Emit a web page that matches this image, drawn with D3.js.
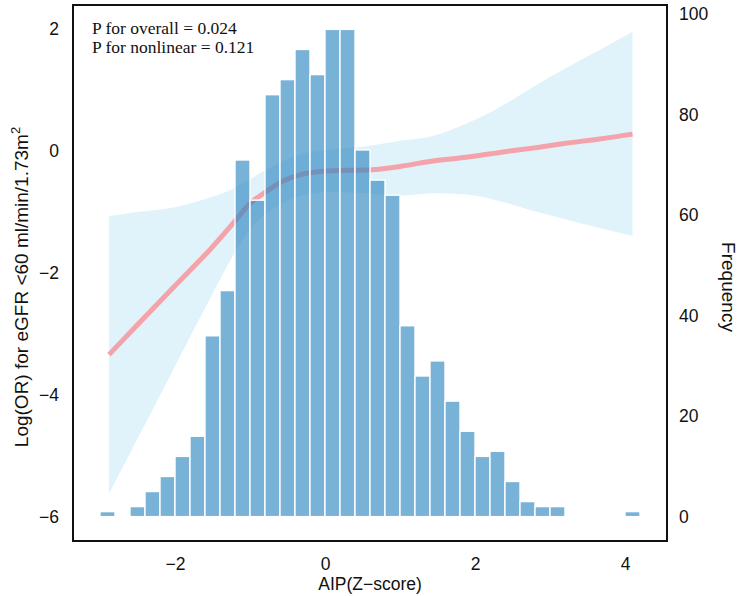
<!DOCTYPE html>
<html>
<head>
<meta charset="utf-8">
<script src="https://cdn.jsdelivr.net/npm/d3@7"></script>
<style>
  body { margin: 0; background: #fff; }
  svg text { font-family: "Liberation Sans", Arial, sans-serif; fill: #111; }
  .note { font-family: "Liberation Serif", "Times New Roman", serif; }
</style>
</head>
<body>
<div id="vis"></div>
<script>
// histogram bins (AIP z-score) and counts
const binEdges = [-3.0, -2.8, -2.6, -2.4, -2.2, -2.0, -1.8, -1.6, -1.4, -1.2, -1.0, -0.8,
  -0.6, -0.4, -0.2, 0.0, 0.2, 0.4, 0.6, 0.8, 1.0, 1.2, 1.4, 1.6, 1.8, 2.0, 2.2, 2.4,
  2.6, 2.8, 3.0, 3.2, 3.4, 3.6, 3.8, 4.0, 4.2];
const counts = [1, 0, 2, 5, 8, 12, 16, 36, 45, 71, 63, 84, 87, 93, 88, 97, 97, 73,
  67, 64, 38, 28, 31, 23, 17, 12, 13, 7, 3, 2, 2, 0, 0, 0, 0, 1];

// spline fit of log(OR) with 95% CI
const fitX = [-2.88, -2.5, -2.0, -1.5, -1.23, -1.0, -0.78, -0.56, -0.34, -0.12, 0.1,
  0.55, 1.0, 1.44, 1.88, 2.33, 2.77, 3.21, 3.66, 4.1];
const fitY = [-3.34, -2.85, -2.21, -1.57, -1.19, -0.86, -0.66, -0.49, -0.39, -0.34, -0.32,
  -0.31, -0.25, -0.16, -0.10, -0.02, 0.05, 0.13, 0.20, 0.28];
const upper = [-1.07, -1.00, -0.92, -0.75, -0.62, -0.46, -0.30, -0.16, -0.05, 0.0, 0.03,
  0.08, 0.17, 0.25, 0.45, 0.72, 1.05, 1.36, 1.66, 1.96];
const lower = [-5.62, -4.72, -3.53, -2.34, -1.72, -1.28, -1.02, -0.85, -0.74, -0.69, -0.67,
  -0.69, -0.73, -0.69, -0.71, -0.82, -0.98, -1.12, -1.26, -1.39];

const xTicks = [-2, 0, 2, 4];
const yTicks = [-6, -4, -2, 0, 2];
const freqTicks = [0, 20, 40, 60, 80, 100];
const notes = ["P for overall = 0.024", "P for nonlinear = 0.121"];

const W = 744, H = 596;
const box = { left: 73, right: 667, top: 5, bottom: 541 };

const svg = d3.select("#vis").append("svg")
  .attr("width", W)
  .attr("height", H);

// ggplot-style 5% expansion
const xSpan = binEdges[binEdges.length - 1] - binEdges[0];
const x = d3.scaleLinear()
  .domain([binEdges[0] - xSpan * 0.05, binEdges[binEdges.length - 1] + xSpan * 0.05])
  .range([box.left, box.right]);

const maxCount = d3.max(counts);
const yCount = d3.scaleLinear()
  .domain([-maxCount * 0.05, maxCount * 1.05])
  .range([box.bottom, box.top]);

// left axis is a rescaled copy of the count axis: -6..2 <-> 0..max
const yLog = d3.scaleLinear()
  .domain([-6 - 8 * 0.05, 2 + 8 * 0.05])
  .range([box.bottom, box.top]);

const pts = fitX.map((d, i) => ({ x: d, y: fitY[i], lo: lower[i], hi: upper[i] }));

// CI ribbon
svg.append("path")
  .datum(pts)
  .attr("fill", "#e0f2fa")
  .attr("d", d3.area()
    .curve(d3.curveMonotoneX)
    .x(d => x(d.x))
    .y0(d => yLog(d.lo))
    .y1(d => yLog(d.hi)));

// fitted line
svg.append("path")
  .datum(pts)
  .attr("fill", "none")
  .attr("stroke", "#f5a3ab")
  .attr("stroke-width", 5)
  .attr("d", d3.line()
    .curve(d3.curveMonotoneX)
    .x(d => x(d.x))
    .y(d => yLog(d.y)));

// histogram bars on top, semi transparent
svg.append("g")
  .selectAll("rect")
  .data(counts)
  .enter()
  .append("rect")
  .attr("x", (d, i) => x(binEdges[i]))
  .attr("width", (d, i) => x(binEdges[i + 1]) - x(binEdges[i]))
  .attr("y", d => yCount(d))
  .attr("height", d => yCount(0) - yCount(d))
  .attr("fill", "#2e86c1")
  .attr("fill-opacity", 0.64)
  .attr("stroke", "#fff")
  .attr("stroke-width", 1.4);

// frame
svg.append("rect")
  .attr("x", box.left).attr("y", box.top)
  .attr("width", box.right - box.left)
  .attr("height", box.bottom - box.top)
  .attr("fill", "none")
  .attr("stroke", "#111")
  .attr("stroke-width", 2);

// axes (no tick marks, labels only)
const minus = d => d < 0 ? "\u2212" + Math.abs(d) : d;
const gx = svg.append("g")
  .attr("transform", `translate(0,${box.bottom})`)
  .call(d3.axisBottom(x).tickValues(xTicks).tickSize(0).tickPadding(17).tickFormat(minus));
const gl = svg.append("g")
  .attr("transform", `translate(${box.left},0)`)
  .call(d3.axisLeft(yLog).tickValues(yTicks).tickSize(0).tickPadding(14).tickFormat(minus));
const gr = svg.append("g")
  .attr("transform", `translate(${box.right},0)`)
  .call(d3.axisRight(yCount).tickValues(freqTicks).tickSize(0).tickPadding(12));

[gx, gl, gr].forEach(g => {
  g.select(".domain").remove();
  g.selectAll("text")
    .style("font-family", "'Liberation Sans', Arial, sans-serif")
    .style("font-size", "17.5px")
    .attr("fill", "#111");
});

// axis titles
svg.append("text")
  .attr("x", (box.left + box.right) / 2)
  .attr("y", 590)
  .attr("text-anchor", "middle")
  .style("font-size", "17.5px")
  .text("AIP(Z\u2212score)");

const yt = svg.append("text")
  .attr("transform", `translate(28,${(box.top + box.bottom) / 2 + 14}) rotate(-90)`)
  .attr("text-anchor", "middle")
  .style("font-size", "19px");
yt.append("tspan").text("Log(OR) for eGFR <60 ml/min/1.73m");
yt.append("tspan").attr("dy", -8).style("font-size", "13px").text("2");

svg.append("text")
  .attr("transform", `translate(722,${(box.top + box.bottom) / 2 + 14}) rotate(90)`)
  .attr("text-anchor", "middle")
  .style("font-size", "19px")
  .text("Frequency");

// p-value notes
svg.selectAll("text.note")
  .data(notes)
  .enter()
  .append("text")
  .attr("class", "note")
  .attr("x", 92)
  .attr("y", (d, i) => 34 + i * 18.5)
  .style("font-size", "17.5px")
  .text(d => d);
</script>
</body>
</html>
